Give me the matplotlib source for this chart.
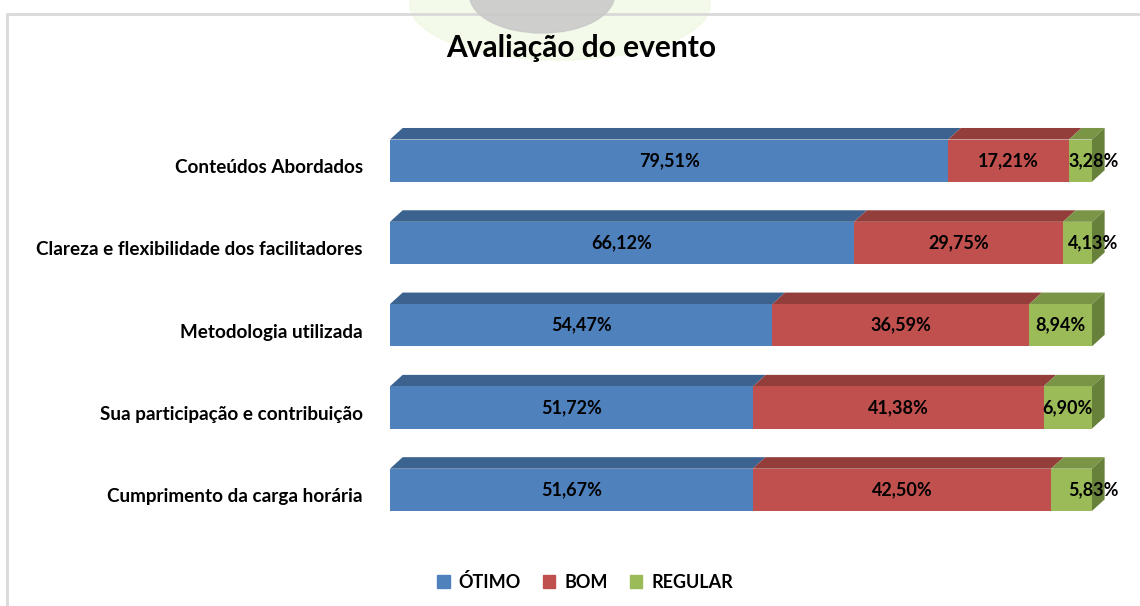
import matplotlib.pyplot as plt
from matplotlib.patches import Polygon, Patch, Ellipse, Rectangle
import numpy as np

plt.rcParams['font.family'] = ['Lato', 'DejaVu Sans']

CATEGORIES = ["Conteúdos Abordados",
              "Clareza e flexibilidade dos facilitadores",
              "Metodologia utilizada",
              "Sua participação e contribuição",
              "Cumprimento da carga horária"]
OTIMO = [79.51, 66.12, 54.47, 51.72, 51.67]
BOM = [17.21, 29.75, 36.59, 41.38, 42.50]
REGULAR = [3.28, 4.13, 8.94, 6.90, 5.83]
SERIES = ["ÓTIMO", "BOM", "REGULAR"]

# front, top, side colours
COLORS = {
    "ÓTIMO": ("#4F81BD", "#3C6390", "#36597f"),
    "BOM": ("#C0504D", "#943E3C", "#833735"),
    "REGULAR": ("#9BBB59", "#7A9545", "#67803a"),
}

BAR_H = 0.513
DX = 1.8     # depth in x data units
DY = 0.14    # depth in y data units (up)

fig = plt.figure(figsize=(11.4, 6.06), dpi=100)

# chart frame
fig.patches.append(Rectangle((7 / 1140, -0.1), 1.2, 1 - 14 / 606 + 0.1,
                             transform=fig.transFigure, facecolor="none",
                             edgecolor="#d9d9d9", linewidth=2, zorder=1))
# faint logo watermark at the top
fig.patches.append(Ellipse((560 / 1140, 1 - 5 / 606), 300 / 1140, 110 / 606,
                           transform=fig.transFigure, color="#eef8e0", alpha=0.7, zorder=0))
fig.patches.append(Ellipse((542 / 1140, 1 + 5 / 606), 145 / 1140, 76 / 606,
                           transform=fig.transFigure, color="#c8c8c8", alpha=0.85, zorder=2))

ax = fig.add_axes([390 / 1140, 66 / 606, 702 / 1140, 430 / 606])
ax.set_zorder(2)
ax.patch.set_visible(False)
n = len(CATEGORIES)
y = np.arange(n)
ax.set_xlim(0, 100)
ax.set_ylim(4.61, -0.615)

data = {"ÓTIMO": OTIMO, "BOM": BOM, "REGULAR": REGULAR}
left = np.zeros(n)
for name in SERIES:
    vals = np.array(data[name])
    front, top, side = COLORS[name]
    ax.barh(y, vals, left=left, height=BAR_H, color=front, zorder=3)
    for i in range(n):
        x0, x1 = left[i], left[i] + vals[i]
        yt = y[i] - BAR_H / 2
        ax.add_patch(Polygon([(x0, yt), (x1, yt), (x1 + DX, yt - DY), (x0 + DX, yt - DY)],
                             closed=True, facecolor=top, edgecolor="none", zorder=2,
                             clip_on=False))
        if name == SERIES[-1]:
            yb = y[i] + BAR_H / 2
            ax.add_patch(Polygon([(x1, yt), (x1 + DX, yt - DY), (x1 + DX, yb - DY), (x1, yb)],
                                 closed=True, facecolor=side, edgecolor="none", zorder=2,
                                 clip_on=False))
        lx = (x0 + x1) / 2 if vals[i] >= 6.5 else 100.2
        ax.text(lx, y[i], f"{vals[i]:.2f}%".replace(".", ","), ha="center", va="center",
                fontsize=13, fontweight="bold", color="black", zorder=5, clip_on=False)
    left = left + vals

# category labels, sitting slightly below the bar centre as in the original
for i, cat in enumerate(CATEGORIES):
    ax.text(-3.85, y[i] + 0.085, cat, ha="right", va="center",
            fontsize=13.6, fontweight="bold", clip_on=False)
ax.set_xticks([])
ax.set_yticks([])
for s in ax.spines.values():
    s.set_visible(False)

fig.text(581 / 1140, 1 - 48 / 606, "Avaliação do evento", ha="center", va="center",
         fontsize=21.5, fontweight="bold", zorder=5)

handles = [Patch(color=COLORS[s][0]) for s in SERIES]
leg = fig.legend(handles, SERIES, loc="center", bbox_to_anchor=(585 / 1140, 1 - 582 / 606),
                 ncol=3, frameon=False, handlelength=0.7, handleheight=0.7, handletextpad=0.5,
                 columnspacing=1.2, fontsize=13)
for t in leg.get_texts():
    t.set_fontweight("bold")

fig.savefig("out.png", dpi=100)
